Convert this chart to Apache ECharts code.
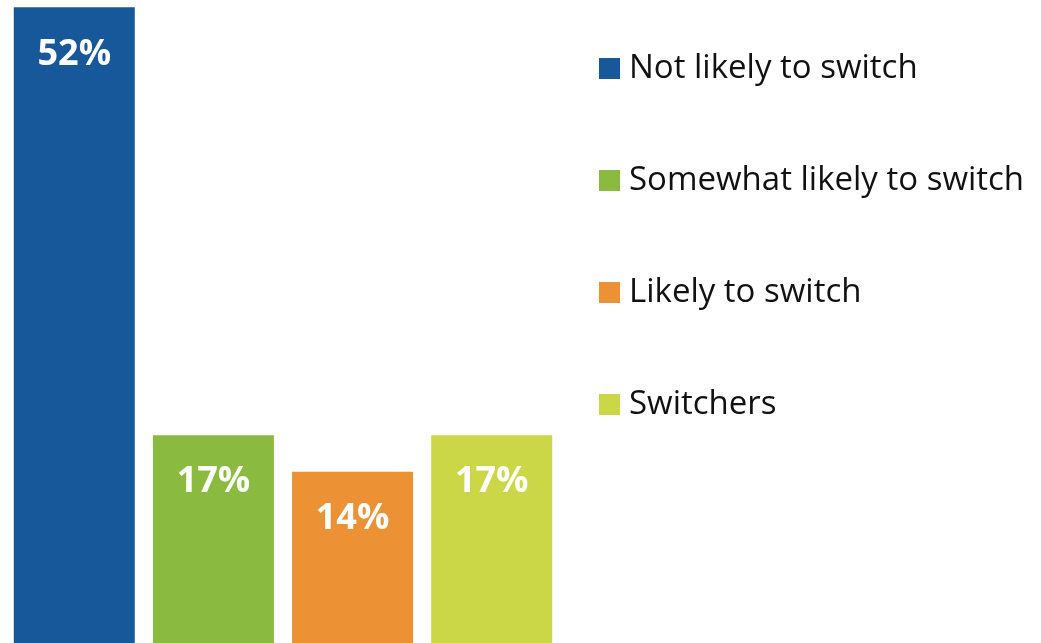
<!DOCTYPE html>
<html>
<head>
<meta charset="utf-8">
<script src="https://cdn.jsdelivr.net/npm/echarts@6/dist/echarts.min.js"></script>
<style>
  html, body { margin: 0; padding: 0; background: #fff; }
  #main { width: 1041px; height: 643px; }
</style>
</head>
<body>
<div id="main"></div>
<script>
// data
const seriesNames = ["Not likely to switch", "Somewhat likely to switch", "Likely to switch", "Switchers"];
const seriesValues = [52, 17, 14, 17];
const seriesColors = ["#16589A", "#8ABB40", "#EC9134", "#CCD748"];
const categories = ["All"];

const myChart = echarts.init(document.getElementById("main"));

const series = seriesNames.map((name, i) => ({
  name: name,
  type: "bar",
  data: [seriesValues[i]],
  barWidth: 121,
  barGap: "15%",
  itemStyle: { color: seriesColors[i] },
  label: {
    show: true,
    position: "insideTop",
    distance: 29,
    formatter: "{c}%",
    color: "#fff",
    fontSize: 36,
    fontWeight: "bold",
    fontFamily: "Open Sans"
  }
}));

const option = {
  animation: false,
  grid: { left: 12, right: 487, top: 0, bottom: 0 },
  legend: {
    orient: "vertical",
    left: 594,
    top: 47,
    itemWidth: 21,
    itemHeight: 21,
    itemGap: 79,
    icon: "rect",
    textStyle: {
      fontSize: 33,
      color: "#111",
      fontFamily: "Open Sans",
      padding: [0, 0, 0, 4]
    },
    data: seriesNames
  },
  xAxis: {
    type: "category",
    data: categories,
    show: false
  },
  yAxis: {
    type: "value",
    min: 0,
    max: 52.6,
    show: false
  },
  series: series
};

myChart.setOption(option);
</script>
</body>
</html>
